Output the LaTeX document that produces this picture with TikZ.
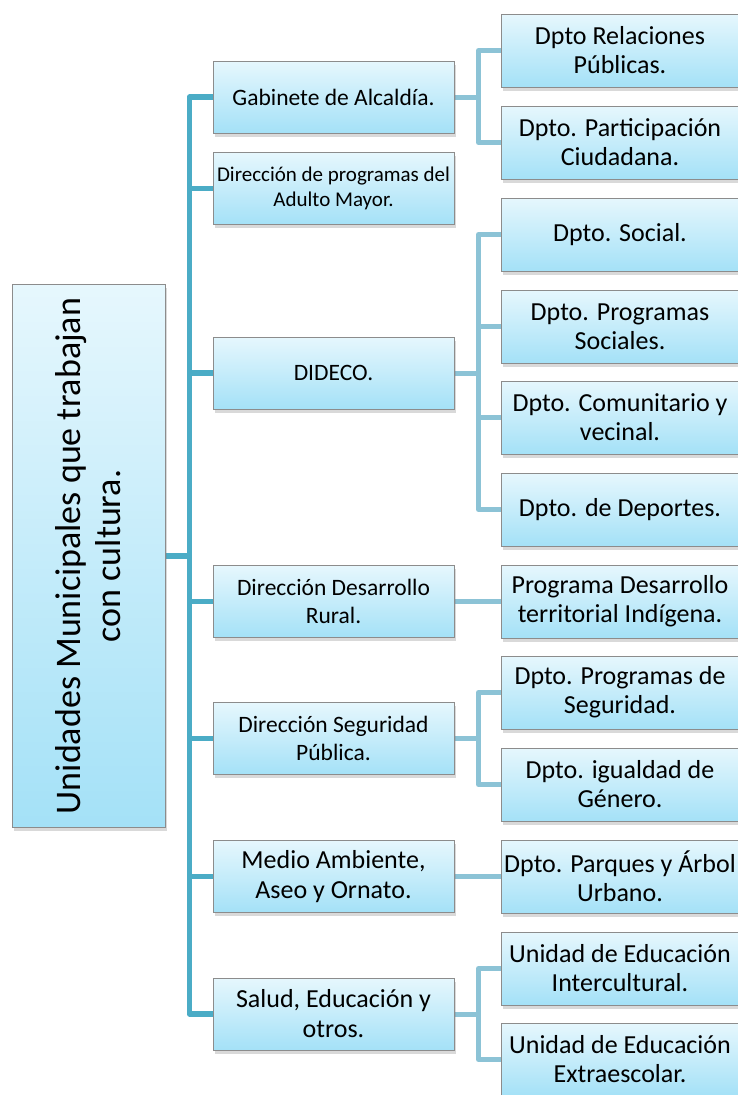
\documentclass[tikz,border=0pt]{standalone}
\usepackage{fontspec}
\setmainfont{Carlito}
\usetikzlibrary{backgrounds,shadows}
\definecolor{trunk}{HTML}{4BACC6}
\definecolor{twig}{HTML}{8CC3D6}
\definecolor{boxtop}{HTML}{E6F7FD}
\definecolor{boxbottom}{HTML}{A4E1F7}
\tikzset{every picture/.style={
  x=1pt, y=-1pt                 % Pixel coordinates, y grows downwards.
  },
  unit/.style={draw=black!45, line width=1pt, top color=boxtop, bottom color=boxbottom,
    drop shadow={opacity=0.3, shadow xshift=1.5pt, shadow yshift=-3.5pt},
    align=center, text=black, inner sep=2pt},
  office/.style={unit, minimum width=241pt, minimum height=72pt,
    font=\fontsize{23.5}{28}\selectfont},
  dept/.style={unit, minimum width=238pt, minimum height=73pt,
    font=\fontsize{26}{29}\selectfont},
  link/.style={draw=trunk, line width=5.5pt, line join=round},
  sublink/.style={draw=twig, line width=5pt, line join=round}
}

\begin{document}
\begin{tikzpicture}
  \useasboundingbox (0,0) rectangle (738,1095);
  \clip (0,0) rectangle (738,1095);

  % root
  \node[unit, minimum width=153pt, minimum height=543pt] (root) at (88.5,556) {};
  \node[rotate=90, align=center, font=\fontsize{36}{40}\selectfont] (rootlabel)
    at (root.center) {Unidades Municipales que trabajan\\con cultura.};

  % offices
  \node[office] (gab)    at (333.5,97)   {Gabinete de Alcaldía.};
  \node[office, font=\fontsize{21}{25}\selectfont] (amayor) at (333.5,188.5)
    {Dirección de programas del\\Adulto Mayor.};
  \node[office] (dideco) at (333.5,373)  {DIDECO.};
  \node[office] (rural)  at (333.5,601.5) {Dirección Desarrollo\\Rural.};
  \node[office] (segur)  at (333.5,738.5) {Dirección Seguridad\\Pública.};
  \node[office, font=\fontsize{26}{30}\selectfont] (medio) at (333.5,876.5)
    {Medio Ambiente,\\Aseo y Ornato.};
  \node[office, font=\fontsize{26}{30}\selectfont] (salud) at (333.5,1014)
    {Salud, Educación y\\otros.};

  % departments
  \node[dept] (relpub)  at (620,50.5)  {Dpto Relaciones\\Públicas.};
  \node[dept] (partic)  at (620,142.5) {Dpto. Participación\\Ciudadana.};
  \node[dept] (social)  at (620,234.5) {Dpto. Social.};
  \node[dept] (progsoc) at (620,326.5) {Dpto. Programas\\Sociales.};
  \node[dept] (comun)   at (620,417.5) {Dpto. Comunitario y\\vecinal.};
  \node[dept] (deport)  at (620,509.5) {Dpto. de Deportes.};
  \node[dept] (indig)   at (620,601.5) {Programa Desarrollo\\territorial Indígena.};
  \node[dept] (progseg) at (620,692.5) {Dpto. Programas de\\Seguridad.};
  \node[dept] (genero)  at (620,784.5) {Dpto. igualdad de\\Género.};
  \node[dept] (parques) at (620,876.5) {Dpto. Parques y Árbol\\Urbano.};
  \node[dept] (intercu) at (620,968.5) {Unidad de Educación\\Intercultural.};
  \node[dept] (extraes) at (620,1059.5) {Unidad de Educación\\Extraescolar.};

  \begin{scope}[on background layer]
    % trunk
    \draw[link] (root.east) -- ++(24,0) |- (gab.west);
    \draw[link] (root.east) -- ++(24,0) |- (amayor.west);
    \draw[link] (root.east) -- ++(24,0) |- (dideco.west);
    \draw[link] (root.east) -- ++(24,0) |- (rural.west);
    \draw[link] (root.east) -- ++(24,0) |- (segur.west);
    \draw[link] (root.east) -- ++(24,0) |- (medio.west);
    \draw[link] (root.east) -- ++(24,0) |- (salud.west);
    % branches
    \draw[sublink] (gab.east) -- ++(24,0) |- (relpub.west);
    \draw[sublink] (gab.east) -- ++(24,0) |- (partic.west);
    \draw[sublink] (dideco.east) -- ++(24,0) |- (social.west);
    \draw[sublink] (dideco.east) -- ++(24,0) |- (progsoc.west);
    \draw[sublink] (dideco.east) -- ++(24,0) |- (comun.west);
    \draw[sublink] (dideco.east) -- ++(24,0) |- (deport.west);
    \draw[sublink] (rural.east) -- (indig.west);
    \draw[sublink] (segur.east) -- ++(24,0) |- (progseg.west);
    \draw[sublink] (segur.east) -- ++(24,0) |- (genero.west);
    \draw[sublink] (medio.east) -- (parques.west);
    \draw[sublink] (salud.east) -- ++(24,0) |- (intercu.west);
    \draw[sublink] (salud.east) -- ++(24,0) |- (extraes.west);
  \end{scope}
\end{tikzpicture}
\end{document}
